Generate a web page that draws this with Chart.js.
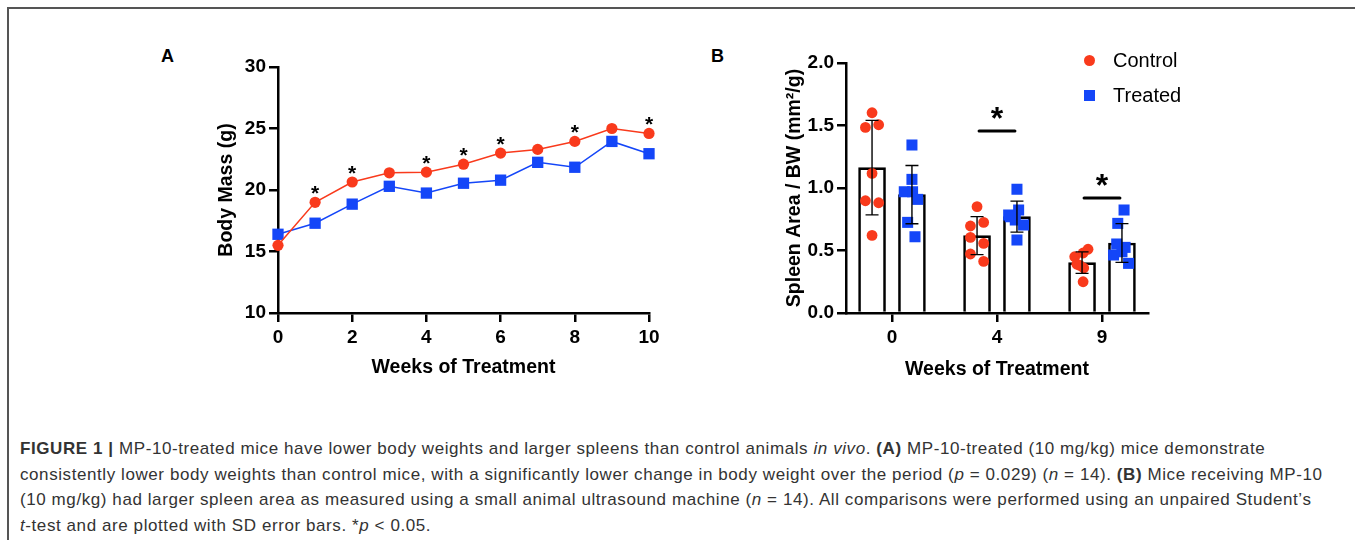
<!DOCTYPE html>
<html>
<head>
<meta charset="utf-8">
<script src="https://cdn.jsdelivr.net/npm/chart.js@4"></script>
<style>
    body { margin: 0; background: #fff; font-family: "Liberation Sans", Arial, sans-serif; }
    #page { position: relative; width: 1355px; height: 540px; overflow: hidden; }
    #frame { position: absolute; left: 7px; top: 7px; width: 1360px; height: 540px; border-top: 2px solid #555; border-left: 2px solid #555; }
    .panel { position: absolute; }
    .panel-label { position: absolute; font-weight: bold; font-size: 18px; color: #000; }
    .legend-row { position: absolute; font-size: 20px; color: #000; }
    .legend-dot { position: absolute; width: 11px; height: 11px; }
    #caption { position: absolute; left: 20px; top: 436px; font-size: 17px; letter-spacing: 0.58px; line-height: 25.7px; color: #333; white-space: nowrap; }
</style>
</head>
<body>
<div id="page">
    <div id="frame"></div>
    <div class="panel-label" style="left:161px; top:46px;">A</div>
    <div class="panel-label" style="left:711px; top:46px;">B</div>
    <div class="panel" style="left:150px; top:40px;"><canvas id="massChart" width="530" height="350"></canvas></div>
    <div class="panel" style="left:700px; top:40px;"><canvas id="spleenChart" width="500" height="350"></canvas></div>

    <div class="legend-dot" style="left:1084px; top:55px; border-radius:50%; background:#F93A1C;"></div>
    <div class="legend-row" style="left:1113px; top:49px;">Control</div>
    <div class="legend-dot" style="left:1084px; top:90px; background:#1446F8;"></div>
    <div class="legend-row" style="left:1113px; top:84px;">Treated</div>

    <div id="caption">
        <b>FIGURE 1 |</b> MP-10-treated mice have lower body weights and larger spleens than control animals <i>in vivo</i>. <b>(A)</b> MP-10-treated (10 mg/kg) mice demonstrate<br>
        consistently lower body weights than control mice, with a significantly lower change in body weight over the period (<i>p</i> = 0.029) (<i>n</i> = 14). <b>(B)</b> Mice receiving MP-10<br>
        (10 mg/kg) had larger spleen area as measured using a small animal ultrasound machine (<i>n</i> = 14). All comparisons were performed using an unpaired Student’s<br>
        <i>t</i>-test and are plotted with SD error bars. *<i>p</i> &lt; 0.05.
    </div>
</div>

<script>
// panel A - body mass over time
const weeksA = [0, 1, 2, 3, 4, 5, 6, 7, 8, 9, 10];
const controlMass = [15.5, 19.0, 20.65, 21.4, 21.45, 22.1, 23.0, 23.3, 23.95, 25.0, 24.6];
const treatedMass = [16.4, 17.3, 18.85, 20.3, 19.75, 20.55, 20.8, 22.25, 21.85, 23.95, 22.95];
const massStars = [false, true, true, false, true, true, true, false, true, false, true];

// panel B - spleen area / body weight
const weeksB = ['0', '4', '9'];
const controlMean = [1.163, 0.619, 0.403];
const controlSD = [0.378, 0.152, 0.086];
const treatedMean = [0.947, 0.771, 0.560];
const treatedSD = [0.233, 0.124, 0.155];
const controlPoints = [
    [1.602, 1.485, 1.506, 1.117, 0.898, 0.882, 0.621],
    [0.851, 0.696, 0.725, 0.605, 0.557, 0.472, 0.413],
    [0.45, 0.48, 0.51, 0.38, 0.36, 0.25, 0.39]
];
const controlJitter = [
    [0, -0.063, 0.063, 0, -0.063, 0.063, 0],
    [0, -0.063, 0.063, -0.063, 0.063, -0.063, 0.063],
    [-0.07, 0.01, 0.057, -0.02, 0.016, 0.01, -0.05]
];
const treatedPoints = [
    [1.344, 1.069, 0.97, 0.97, 0.909, 0.725, 0.61],
    [0.99, 0.784, 0.824, 0.744, 0.704, 0.584, 0.77],
    [0.824, 0.717, 0.552, 0.525, 0.464, 0.397, 0.49]
];
const treatedJitter = [
    [0, 0, -0.073, 0.006, 0.054, -0.041, 0.029],
    [0, -0.079, 0.016, -0.016, 0.063, 0, -0.063],
    [0.02, -0.04, -0.05, 0.03, -0.08, 0.063, 0]
];
const spleenSig = [null, 1.456, 0.92];

const RED = '#F93A1C';
const BLUE = '#1446F8';
const FONT = 'Liberation Sans, Arial, sans-serif';
const GROUP_OFFSET = 0.19;

const tickFont = { family: FONT, size: 19, weight: 'bold' };
const titleFont = { family: FONT, size: 19.5, weight: 'bold' };
const axisGrid = { drawOnChartArea: false, drawTicks: true, tickLength: 9, color: '#000', lineWidth: 2.5, offset: false };
const axisBorder = { color: '#000', width: 2.5 };

const massStarsPlugin = {
    id: 'massStars',
    afterDatasetsDraw(chart) {
        const { ctx, scales: { x, y } } = chart;
        ctx.save();
        ctx.font = 'bold 21px ' + FONT;
        ctx.fillStyle = '#000';
        ctx.textAlign = 'center';
        ctx.textBaseline = 'alphabetic';
        massStars.forEach((star, i) => {
            if (!star) return;
            const px = x.getPixelForValue(weeksA[i]);
            const py = y.getPixelForValue(controlMass[i]) - 14;
            ctx.fillText('*', px, py + 12);
        });
        ctx.restore();
    }
};

new Chart(document.getElementById('massChart'), {
    type: 'line',
    data: {
        datasets: [
            {
                label: 'Control',
                data: weeksA.map((w, i) => ({ x: w, y: controlMass[i] })),
                borderColor: RED, backgroundColor: RED, borderWidth: 1.5,
                pointStyle: 'circle', pointRadius: 5.6, pointBorderWidth: 0,
                tension: 0, clip: false, order: 1
            },
            {
                label: 'Treated',
                data: weeksA.map((w, i) => ({ x: w, y: treatedMass[i] })),
                borderColor: BLUE, backgroundColor: BLUE, borderWidth: 1.5,
                pointStyle: 'rect', pointRadius: 8, pointBorderWidth: 0,
                tension: 0, clip: false, order: 2
            }
        ]
    },
    options: {
        responsive: false,
        animation: false,
        layout: { padding: { top: 27, right: 31, left: 0, bottom: 0 } },
        plugins: { legend: { display: false }, tooltip: { enabled: false } },
        scales: {
            x: {
                type: 'linear', min: 0, max: 10,
                afterFit(scale) { scale.height = 77; },
                ticks: { stepSize: 2, font: tickFont, color: '#000', padding: 4 },
                grid: axisGrid, border: axisBorder,
                title: { display: true, text: 'Weeks of Treatment', font: titleFont, color: '#000', padding: { top: 0, bottom: 11 } }
            },
            y: {
                min: 10, max: 30,
                afterFit(scale) { scale.width = 128; },
                ticks: { stepSize: 5, font: tickFont, color: '#000', padding: 3 },
                grid: axisGrid, border: axisBorder,
                title: { display: true, text: 'Body Mass (g)', font: titleFont, color: '#000', padding: { top: 65, bottom: 0 } }
            }
        }
    },
    plugins: [massStarsPlugin]
});

// error bars + significance markers for panel B
const spleenExtras = {
    id: 'spleenExtras',
    afterDatasetsDraw(chart) {
        const { ctx, scales: { x, y } } = chart;
        ctx.save();
        ctx.strokeStyle = '#000';
        ctx.lineWidth = 1.4;
        const cap = 6.5;
        const drawErr = (cx, mean, sd) => {
            const px = x.getPixelForValue(cx);
            const top = y.getPixelForValue(mean + sd);
            const bot = y.getPixelForValue(mean - sd);
            ctx.beginPath();
            ctx.moveTo(px, top); ctx.lineTo(px, bot);
            ctx.moveTo(px - cap, top); ctx.lineTo(px + cap, top);
            ctx.moveTo(px - cap, bot); ctx.lineTo(px + cap, bot);
            ctx.stroke();
        };
        weeksB.forEach((w, i) => {
            drawErr(i - GROUP_OFFSET, controlMean[i], controlSD[i]);
            drawErr(i + GROUP_OFFSET, treatedMean[i], treatedSD[i]);
        });
        ctx.lineWidth = 3.2;
        ctx.lineCap = 'round';
        ctx.fillStyle = '#000';
        ctx.font = 'bold 32px ' + FONT;
        ctx.textAlign = 'center';
        ctx.textBaseline = 'alphabetic';
        spleenSig.forEach((v, i) => {
            if (v === null) return;
            const py = y.getPixelForValue(v);
            ctx.beginPath();
            ctx.moveTo(x.getPixelForValue(i - 0.17), py);
            ctx.lineTo(x.getPixelForValue(i + 0.17), py);
            ctx.stroke();
            ctx.fillText('*', x.getPixelForValue(i), py - 2);
        });
        ctx.restore();
    }
};

const scatterSet = (points, jitter, sign, color, style, radius) => ({
    type: 'scatter',
    data: points.flatMap((vals, i) => vals.map((v, k) => ({ x: i + sign * GROUP_OFFSET + jitter[i][k], y: v }))),
    backgroundColor: color, borderWidth: 0,
    pointStyle: style, pointRadius: radius, order: 1, clip: false
});

new Chart(document.getElementById('spleenChart'), {
    type: 'bar',
    data: {
        datasets: [
            {
                label: 'Control',
                data: controlMean.map((m, i) => ({ x: i - GROUP_OFFSET, y: m })),
                backgroundColor: '#fff', borderColor: '#000', borderWidth: 2.6,
                barThickness: 27, maxBarThickness: 27, grouped: false, order: 3
            },
            {
                label: 'Treated',
                data: treatedMean.map((m, i) => ({ x: i + GROUP_OFFSET, y: m })),
                backgroundColor: '#fff', borderColor: '#000', borderWidth: 2.6,
                barThickness: 27, maxBarThickness: 27, grouped: false, order: 3
            },
            scatterSet(controlPoints, controlJitter, -1, RED, 'circle', 5.4),
            scatterSet(treatedPoints, treatedJitter, 1, BLUE, 'rect', 7.8)
        ]
    },
    options: {
        responsive: false,
        animation: false,
        layout: { padding: { top: 23, right: 52, left: 0, bottom: 0 } },
        plugins: { legend: { display: false }, tooltip: { enabled: false } },
        scales: {
            x: {
                type: 'linear', min: -0.438, max: 2.438, offset: false,
                afterFit(scale) { scale.height = 77; },
                afterBuildTicks(scale) { scale.ticks = weeksB.map((w, i) => ({ value: i })); },
                ticks: { font: tickFont, color: '#000', padding: 4, callback: v => weeksB[v] },
                grid: axisGrid, border: axisBorder,
                title: { display: true, text: 'Weeks of Treatment', font: titleFont, color: '#000', padding: { top: 0, bottom: 9 } }
            },
            y: {
                min: 0, max: 2,
                afterFit(scale) { scale.width = 146; },
                ticks: { stepSize: 0.5, font: tickFont, color: '#000', padding: 3, callback: v => v.toFixed(1) },
                grid: axisGrid, border: axisBorder,
                title: { display: true, text: 'Spleen Area / BW (mm²/g)', font: titleFont, color: '#000', padding: { top: 83, bottom: 0 } }
            }
        }
    },
    plugins: [spleenExtras]
});
</script>
</body>
</html>
